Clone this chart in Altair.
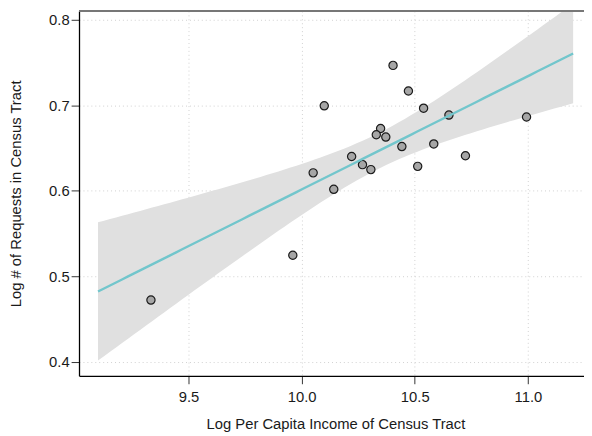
import altair as alt
import numpy as np
import pandas as pd

# Data
income = [10.100, 10.404, 10.472, 10.539, 10.651, 10.994, 10.349, 10.330, 10.372, 10.443,
          10.584, 10.724, 10.221, 10.269, 10.306, 10.513, 10.051, 10.142, 9.961, 9.334]
requests = [0.6992, 0.7464, 0.7165, 0.6964, 0.6884, 0.6861, 0.6727, 0.6654, 0.6627, 0.6516,
            0.6547, 0.6409, 0.6400, 0.6305, 0.6247, 0.6285, 0.6209, 0.6017, 0.5247, 0.4724]
fit_range = [9.1, 11.2]

pts = pd.DataFrame({"x": income, "y": requests})

# OLS fit with 95% confidence band (as geom_smooth(method="lm"))
xa = np.array(income)
ya = np.array(requests)
n = len(xa)
b, a = np.polyfit(xa, ya, 1)
resid = ya - (a + b * xa)
s = np.sqrt(np.sum(resid ** 2) / (n - 2))
sxx = np.sum((xa - xa.mean()) ** 2)
tval = 2.100922  # t(0.975, df=18)
grid = np.linspace(fit_range[0], fit_range[1], 80)
fit = a + b * grid
se = s * np.sqrt(1.0 / n + (grid - xa.mean()) ** 2 / sxx)
band = pd.DataFrame({"x": grid, "fit": fit, "lo": fit - tval * se, "hi": fit + tval * se})

xscale = alt.Scale(domain=[9.0161, 11.248], nice=False, zero=False)
yscale = alt.Scale(domain=[0.3839, 0.810], nice=False, zero=False)

FONT = "Liberation Sans"

xaxis = alt.Axis(title="Log Per Capita Income of Census Tract", values=[9.5, 10.0, 10.5, 11.0],
                 format=".1f", tickSize=8, labelPadding=6, titlePadding=12, titleX=260)
yaxis = alt.Axis(title="Log # of Requests in Census Tract", values=[0.4, 0.5, 0.6, 0.7, 0.8],
                 format=".1f", tickSize=8, labelPadding=2, titlePadding=25)

area = alt.Chart(band).mark_area(color="#E0E0E0", opacity=1, clip=True).encode(
    x=alt.X("x:Q", scale=xscale, axis=xaxis),
    y=alt.Y("lo:Q", scale=yscale, axis=yaxis),
    y2="hi:Q",
)

line = alt.Chart(band).mark_line(color="#72C6CC", strokeWidth=2.4, clip=True).encode(
    x=alt.X("x:Q", scale=xscale),
    y=alt.Y("fit:Q", scale=yscale),
)

points = alt.Chart(pts).mark_point(filled=True, fill="#A6A6A6", stroke="#1a1a1a",
                                   strokeWidth=1.2, size=70, opacity=1, shape="circle").encode(
    x=alt.X("x:Q", scale=xscale),
    y=alt.Y("y:Q", scale=yscale),
)

top = alt.Chart(pts).mark_rule(color="#777777", strokeWidth=1.5).encode(
    x=alt.value(0), x2=alt.value(512), y=alt.value(0)
)

chart = alt.layer(area, points, line, top).properties(
    width=512, height=370,
    padding={"left": 72, "top": 0, "right": 0, "bottom": 56},
    autosize=alt.AutoSizeParams(type="none"),
).configure_view(stroke=None).configure_axis(
    labelFont=FONT, titleFont=FONT, labelFontSize=15, titleFontSize=15,
    labelColor="#1a1a1a", titleColor="#1a1a1a", titleFontWeight="normal",
    domainColor="#000000", domainWidth=1.3, tickColor="#333333", tickWidth=1,
    grid=True, gridColor="#D0D0D0", gridDash=[1, 3], gridWidth=1,
)

chart.save("out.html", embed_options={"renderer": "svg", "actions": False})
